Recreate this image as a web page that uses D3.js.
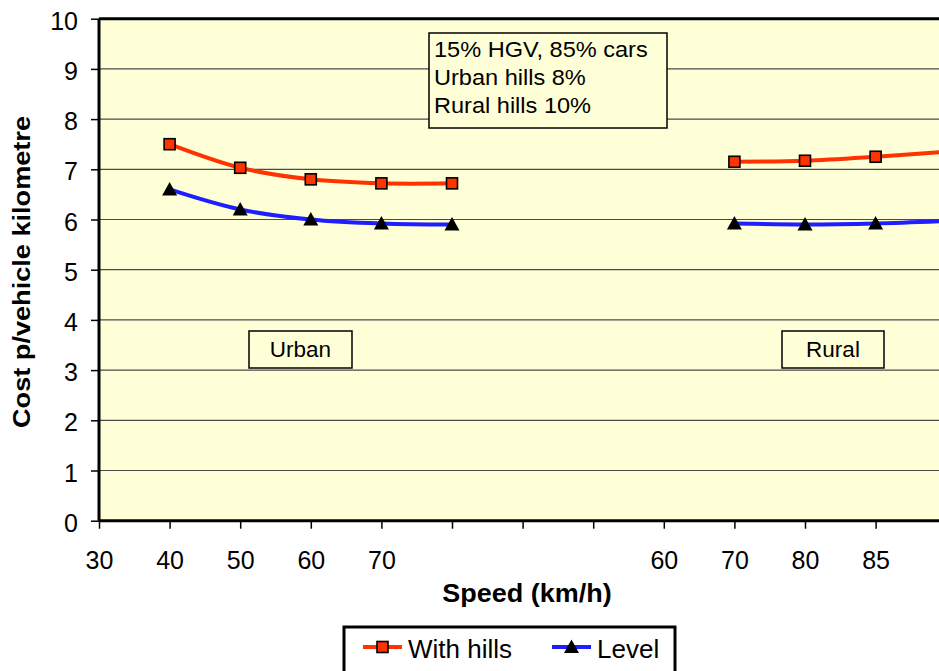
<!DOCTYPE html>
<html>
<head>
<meta charset="utf-8">
<script src="https://cdn.jsdelivr.net/npm/d3@7"></script>
<style>
  body { margin: 0; background: #fff; }
  text { font-family: "Liberation Sans", Arial, sans-serif; fill: #000; }
</style>
</head>
<body>
<div id="container"></div>
<script>
let w = 939;
let h = 671;

// categories along the x axis (the chart repeats 60 and 70, so keys are by index)
let speedLabels = ["30", "40", "50", "60", "70", "", "", "", "60", "70", "80", "85", ""];
// cost per vehicle kilometre
let withHills = [null, 7.50, 7.03, 6.80, 6.72, 6.72, null, null, null, 7.15, 7.17, 7.25, 7.35];
let level = [null, 6.60, 6.20, 6.00, 5.92, 5.90, null, null, null, 5.92, 5.90, 5.92, 5.97];
let yTicks = [0, 1, 2, 3, 4, 5, 6, 7, 8, 9, 10];
let notes = ["15% HGV, 85% cars", "Urban hills 8%", "Rural hills 10%"];

let plotLeft = 99, plotTop = 18.7, plotBottom = 520.7;
let plotRight = plotLeft + 12 * 70.6;

// the original text is a bit wider than Liberation Sans
function stretch(sel, k) {
  sel.each(function() {
    let len = this.getComputedTextLength();
    d3.select(this).attr("textLength", len * k).attr("lengthAdjust", "spacingAndGlyphs");
  });
}

let viz = d3.select("#container")
  .append("svg")
    .attr("width", w)
    .attr("height", h)
;

let x = d3.scalePoint()
  .domain(d3.range(speedLabels.length))
  .range([plotLeft, plotRight]);

let y = d3.scaleLinear()
  .domain([0, 10])
  .range([plotBottom, plotTop]);

// plot area
viz.append("rect")
  .attr("x", plotLeft).attr("y", plotTop)
  .attr("width", plotRight - plotLeft + 20).attr("height", plotBottom - plotTop)
  .attr("fill", "#FFFFD7");

// gridlines
viz.append("g")
  .selectAll("line").data(yTicks.slice(1, -1)).enter()
  .append("line")
    .attr("x1", plotLeft).attr("x2", plotRight + 20)
    .attr("y1", d => y(d)).attr("y2", d => y(d))
    .attr("stroke", "#4a4a4a").attr("stroke-width", 1.2);

// top border
viz.append("line")
  .attr("x1", plotLeft).attr("x2", plotRight + 20)
  .attr("y1", plotTop).attr("y2", plotTop)
  .attr("stroke", "#000").attr("stroke-width", 3);

// y axis
let yAxis = viz.append("g")
  .attr("transform", "translate(" + plotLeft + ",0)")
  .call(d3.axisLeft(y).tickValues(yTicks).tickSize(8).tickPadding(13).tickFormat(d3.format("d")));
yAxis.select(".domain").attr("stroke-width", 3).attr("d", "M0," + plotTop + "V" + plotBottom);
yAxis.selectAll(".tick line").attr("stroke-width", 1.5);
yAxis.selectAll("text").style("font-size", "25px").attr("dy", "0.42em");

// x axis
let xAxis = viz.append("g")
  .attr("transform", "translate(0," + plotBottom + ")")
  .call(d3.axisBottom(x).tickSize(8).tickPadding(23).tickFormat(i => speedLabels[i]));
xAxis.select(".domain").attr("stroke-width", 3).attr("d", "M" + plotLeft + ",0H" + (plotRight + 20));
xAxis.selectAll(".tick line").attr("stroke-width", 1.5);
xAxis.selectAll("text").style("font-size", "25px");

// axis titles
viz.append("text")
  .text("Speed (km/h)")
  .attr("x", 527).attr("y", 602)
  .attr("text-anchor", "middle")
  .style("font-size", "25px").style("font-weight", "bold")
  .call(stretch, 1.08);

viz.append("text")
  .text("Cost p/vehicle kilometre")
  .attr("transform", "translate(30,272) rotate(-90)")
  .attr("text-anchor", "middle")
  .style("font-size", "24px").style("font-weight", "bold")
  .call(stretch, 1.13);

// lines
let line = d3.line()
  .defined(d => d != null)
  .x((d, i) => x(i))
  .y(d => y(d))
  .curve(d3.curveCatmullRom);

viz.append("path")
  .attr("d", line(level))
  .attr("fill", "none").attr("stroke", "#1E1EFF").attr("stroke-width", 4);

viz.append("path")
  .attr("d", line(withHills))
  .attr("fill", "none").attr("stroke", "#FF3300").attr("stroke-width", 4);

let triangle = "M0,-7.5L7.5,6L-7.5,6Z";

viz.append("g")
  .selectAll("path").data(level.map((v, i) => ({v: v, i: i})).filter(d => d.v != null)).enter()
  .append("path")
    .attr("d", triangle)
    .attr("transform", d => "translate(" + x(d.i) + "," + y(d.v) + ")")
    .attr("fill", "#000");

viz.append("g")
  .selectAll("rect").data(withHills.map((v, i) => ({v: v, i: i})).filter(d => d.v != null)).enter()
  .append("rect")
    .attr("x", d => x(d.i) - 5.5).attr("y", d => y(d.v) - 5.5)
    .attr("width", 11).attr("height", 11)
    .attr("fill", "#FF3300").attr("stroke", "#000").attr("stroke-width", 1.6);

// note box
viz.append("rect")
  .attr("x", 429).attr("y", 33).attr("width", 238).attr("height", 95)
  .attr("fill", "#FFFFD7").attr("stroke", "#000").attr("stroke-width", 1.5);
viz.append("g")
  .selectAll("text").data(notes).enter()
  .append("text")
    .text(d => d)
    .attr("x", 434).attr("y", (d, i) => 57 + i * 28)
    .style("font-size", "22px")
    .call(stretch, 1.07);

// region labels
let regions = [{name: "Urban", x0: 249, x1: 352}, {name: "Rural", x0: 782, x1: 884}];
let regionGroups = viz.selectAll(".region").data(regions).enter()
  .append("g").attr("class", "region");
regionGroups.append("rect")
  .attr("x", d => d.x0).attr("y", 331)
  .attr("width", d => d.x1 - d.x0).attr("height", 37)
  .attr("fill", "#FFFFD7").attr("stroke", "#000").attr("stroke-width", 1.5);
regionGroups.append("text")
  .text(d => d.name)
  .attr("x", d => (d.x0 + d.x1) / 2).attr("y", 357)
  .attr("text-anchor", "middle")
  .style("font-size", "22.5px");

// legend
let legend = viz.append("g");
legend.append("rect")
  .attr("x", 344).attr("y", 627).attr("width", 331).attr("height", 70)
  .attr("fill", "#fff").attr("stroke", "#000").attr("stroke-width", 3);

let items = [
  {name: "With hills", color: "#FF3300", lx: 363, mark: "square"},
  {name: "Level", color: "#1E1EFF", lx: 552, mark: "triangle"}
];
let itemGroups = legend.selectAll(".item").data(items).enter()
  .append("g").attr("class", "item")
  .attr("transform", d => "translate(" + d.lx + ",647)");
itemGroups.append("line")
  .attr("x1", 0).attr("x2", 39).attr("y1", 0).attr("y2", 0)
  .attr("stroke", d => d.color).attr("stroke-width", 4);
itemGroups.filter(d => d.mark == "square").append("rect")
  .attr("x", 14).attr("y", -5.5).attr("width", 11).attr("height", 11)
  .attr("fill", "#FF3300").attr("stroke", "#000").attr("stroke-width", 1.6);
itemGroups.filter(d => d.mark == "triangle").append("path")
  .attr("d", triangle).attr("transform", "translate(19.5,0)").attr("fill", "#000");
itemGroups.append("text")
  .text(d => d.name)
  .attr("x", 45).attr("y", 11)
  .style("font-size", "26px");
</script>
</body>
</html>
